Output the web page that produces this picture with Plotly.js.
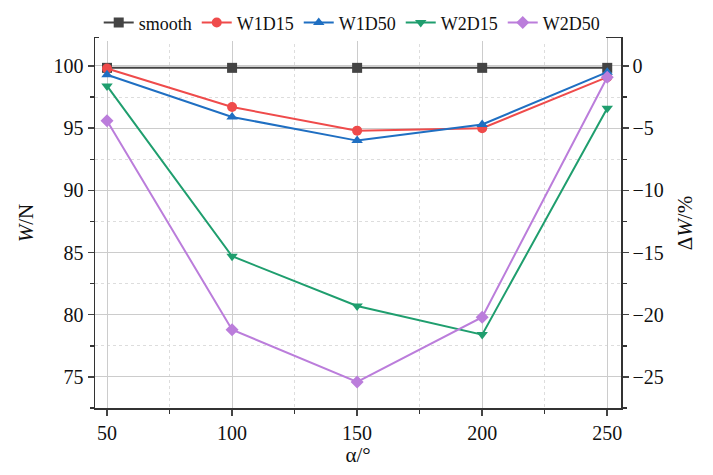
<!DOCTYPE html>
<html><head><meta charset="utf-8">
<script src="https://cdn.plot.ly/plotly-3.0.1.min.js"></script>
<style>body{margin:0;background:#fff}#chart{width:713px;height:475px}</style>
</head><body><div id="chart"></div>
<script>
const alpha = [50, 100, 150, 200, 250];
const smooth = [99.85, 99.85, 99.85, 99.85, 99.85];
const w1d15 = [99.8, 96.7, 94.8, 95.0, 99.1];
const w1d50 = [99.3, 95.9, 94.0, 95.3, 99.5];
const w2d15 = [98.4, 84.7, 80.7, 78.4, 96.6];
const w2d50 = [95.6, 78.8, 74.6, 79.8, 99.1];
const names = ['smooth', 'W1D15', 'W1D50', 'W2D15', 'W2D50'];
const colors = ['#444444', '#ef4b4b', '#1f6fc2', '#1f9e6e', '#bb7ddb'];
const symbols = ['square', 'circle', 'triangle-up', 'triangle-down', 'diamond'];
const series = [smooth, w1d15, w1d50, w2d15, w2d50];

const yRange = [72.5, 102.25];
const traces = series.map((s, i) => ({
  x: alpha, y: s, name: names[i], type: 'scatter', mode: 'lines+markers',
  line: {color: colors[i], width: 2},
  marker: {color: colors[i], symbol: symbols[i], size: 10}
}));
traces.push({x: [], y: [], yaxis: 'y2', type: 'scatter', mode: 'lines', showlegend: false, hoverinfo: 'skip'});

const fam = "'Times New Roman', 'Liberation Serif', 'DejaVu Serif', serif";
const font = {family: fam, color: '#111'};
const layout = {
  width: 713, height: 475,
  margin: {l: 95, r: 92, t: 38, b: 67, autoexpand: false},
  paper_bgcolor: '#fff', plot_bgcolor: '#fff',
  font: Object.assign({size: 18}, font),
  showlegend: true,
  legend: {orientation: 'h', xref: 'container', x: 0.494, xanchor: 'center', yref: 'container', y: 0.952, yanchor: 'middle',
           font: Object.assign({size: 18}, font), tracegroupgap: 0, itemwidth: 30},
  xaxis: {
    range: [45.2, 255.5], tickvals: alpha, ticks: 'outside', ticklen: 6, tickwidth: 1.5,
    showline: true, linecolor: '#333', linewidth: 1.5, mirror: true,
    showgrid: true, gridcolor: '#cccccc', gridwidth: 1, zeroline: false,
    minor: {dtick: 25, tick0: 25, ticks: 'outside', ticklen: 4, showgrid: true, gridcolor: '#dddddd', griddash: 'dot', tickcolor: '#333'},
    tickfont: Object.assign({size: 20}, font),
    title: {text: 'α/°', font: Object.assign({size: 21}, font), standoff: 2}
  },
  yaxis: {
    range: yRange, dtick: 5, tick0: 75, ticks: 'outside', ticklen: 6, tickwidth: 1.5,
    showline: true, linecolor: '#333', linewidth: 1.5, mirror: true,
    showgrid: true, gridcolor: '#cccccc', gridwidth: 1, zeroline: false,
    minor: {dtick: 2.5, tick0: 72.5, ticks: 'outside', ticklen: 4, showgrid: true, gridcolor: '#dddddd', griddash: 'dot', tickcolor: '#333'},
    tickfont: Object.assign({size: 20}, font),
    title: {text: '<i>W</i>/N', font: Object.assign({size: 21}, font), standoff: 14}
  },
  yaxis2: {
    overlaying: 'y', side: 'right',
    range: [yRange[0] - 100, yRange[1] - 100], dtick: 5, tick0: 0,
    ticks: 'outside', ticklen: 6, tickwidth: 1.5, showline: true, linecolor: '#333', linewidth: 1.5,
    showgrid: false, zeroline: false,
    minor: {dtick: 2.5, ticks: 'outside', ticklen: 4, tickcolor: '#333', showgrid: false},
    tickfont: Object.assign({size: 20}, font),
    title: {text: 'Δ<i>W</i>/%', font: Object.assign({size: 21}, font), standoff: 14}
  }
};
Plotly.newPlot('chart', traces, layout, {displayModeBar: false, staticPlot: true});
</script></body></html>
